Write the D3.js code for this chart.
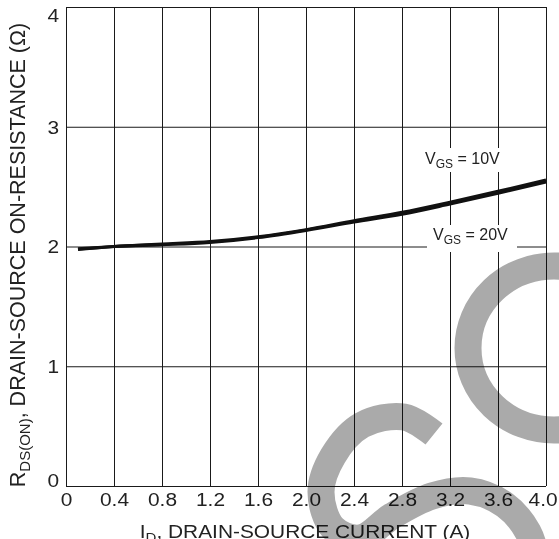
<!DOCTYPE html>
<html>
<head>
<meta charset="utf-8">
<script src="https://cdn.jsdelivr.net/npm/d3@7"></script>
<style>
  body { margin: 0; background: #fff; }
  svg { display: block; font-family: "Liberation Sans", Arial, sans-serif; }
</style>
</head>
<body>
<div id="chart"></div>
<script>
// Drain current (A) and on-resistance (ohm)
const drainCurrent = [0.1, 0.4, 0.8, 1.2, 1.6, 2.0, 2.4, 2.8, 3.2, 3.6, 4.0];
const rdsVgs10 = [1.98, 2.0, 2.02, 2.04, 2.08, 2.14, 2.215, 2.285, 2.37, 2.46, 2.555];
const rdsVgs20 = [1.975, 2.0, 2.015, 2.035, 2.075, 2.135, 2.205, 2.27, 2.355, 2.445, 2.54];

const xTicks = [0, 0.4, 0.8, 1.2, 1.6, 2.0, 2.4, 2.8, 3.2, 3.6, 4.0];
const yTicks = [0, 1, 2, 3, 4];

const W = 559, H = 539;
const margin = {top: 7, right: 13, bottom: 53, left: 66};
const width = W - margin.left - margin.right;
const height = H - margin.top - margin.bottom;

// the source artwork is a little wider than tall
const stretch = "scale(1.16,1)";

const svg = d3.select("#chart").append("svg")
    .attr("width", W)
    .attr("height", H);

const g = svg.append("g")
    .attr("transform", `translate(${margin.left},${margin.top})`);

const x = d3.scaleLinear().domain([0, 4]).range([0, width]);
const y = d3.scaleLinear().domain([0, 4]).range([height, 0]);

// grid + x tick labels
const xAxis = g.append("g")
    .attr("transform", `translate(0,${height})`)
    .call(d3.axisBottom(x)
        .tickValues(xTicks)
        .tickSizeInner(-height)
        .tickSizeOuter(0)
        .tickPadding(7)
        .tickFormat(d => d === 0 ? "0" : d3.format(".1f")(d)));

// grid + y tick labels
const yAxis = g.append("g")
    .call(d3.axisLeft(y)
        .tickValues(yTicks)
        .tickSizeInner(-width)
        .tickSizeOuter(0)
        .tickPadding(6)
        .tickFormat(d3.format("d")));

[xAxis, yAxis].forEach(ax => {
    ax.select(".domain").remove();
    ax.selectAll(".tick line").attr("stroke", "#1a1a1a").attr("stroke-width", 1);
    ax.selectAll(".tick text")
        .attr("fill", "#222")
        .attr("transform", stretch)
        .style("font-size", "18px")
        .style("font-family", "'Liberation Sans', Arial, sans-serif");
});

// end labels are pulled inside the frame
yAxis.selectAll(".tick text")
    .attr("dy", d => d === 4 ? "0.78em" : d === 0 ? "0em" : "0.35em");
xAxis.selectAll(".tick text")
    .attr("dx", d => d === 4 ? -3 : 0);

// curves
const line = d3.line()
    .x(d => x(d[0]))
    .y(d => y(d[1]))
    .curve(d3.curveMonotoneX);

[rdsVgs20, rdsVgs10].forEach(series => {
    g.append("path")
        .datum(drainCurrent.map((c, i) => [c, series[i]]))
        .attr("d", line)
        .attr("fill", "none")
        .attr("stroke", "#111")
        .attr("stroke-width", 3.2)
        .attr("stroke-linejoin", "round");
});

// curve labels with white boxes over the grid
function vgsLabel(cx, cy, box, value) {
    g.append("rect")
        .attr("x", box[0] - margin.left)
        .attr("y", box[1] - margin.top)
        .attr("width", box[2])
        .attr("height", box[3])
        .attr("fill", "#fff");
    const t = g.append("text")
        .attr("x", cx - margin.left)
        .attr("y", cy - margin.top)
        .attr("fill", "#222")
        .style("font-size", "16px");
    t.append("tspan").text("V");
    t.append("tspan").attr("dy", 4).style("font-size", "12px").text("GS");
    t.append("tspan").attr("dy", -4).text(" = " + value);
}
vgsLabel(425, 164, [419, 148, 87, 24], "10V");
vgsLabel(433, 240, [427, 225, 90, 27], "20V");

// axis titles
const xTitle = svg.append("g")
    .attr("transform", `translate(${margin.left + width / 2 - 1},538)`)
  .append("text")
    .attr("transform", stretch)
    .attr("text-anchor", "middle")
    .attr("fill", "#222")
    .style("font-size", "18px");
xTitle.append("tspan").text("I");
xTitle.append("tspan").attr("dy", 4).style("font-size", "13px").text("D");
xTitle.append("tspan").attr("dy", -4).text(", DRAIN-SOURCE CURRENT (A)");

const yTitle = svg.append("text")
    .attr("transform", "rotate(-90)")
    .attr("x", -255)
    .attr("y", 25)
    .attr("text-anchor", "middle")
    .attr("fill", "#222")
    .style("font-size", "21.5px");
yTitle.append("tspan").text("R");
yTitle.append("tspan").attr("dy", 5).style("font-size", "15px").text("DS(ON)");
yTitle.append("tspan").attr("dy", -5).text(", DRAIN-SOURCE ON-RESISTANCE (\u03A9)");

// grey watermark strokes
const mark = svg.append("g")
    .style("mix-blend-mode", "multiply")
    .attr("fill", "none")
    .attr("stroke", "#aaa")
    .attr("stroke-width", 27);

mark.append("ellipse")
    .attr("cx", 554).attr("cy", 348)
    .attr("rx", 86).attr("ry", 82);

mark.append("path")
    .attr("stroke-linecap", "butt")
    .attr("d", d3.line().curve(d3.curveCatmullRom)([
        [434, 434], [404, 417], [362, 425], [333, 456], [321, 492],
        [333, 528], [360, 538], [392, 516], [432, 496], [470, 491],
        [505, 505], [528, 532], [538, 565]
    ]));
</script>
</body>
</html>
